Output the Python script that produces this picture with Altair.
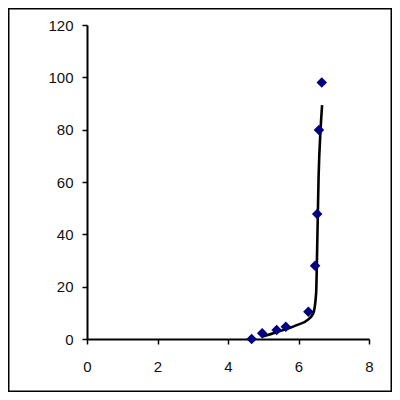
import altair as alt
import pandas as pd

# observed points
pt_x = [4.67, 4.97, 5.38, 5.64, 6.28, 6.47, 6.53, 6.58, 6.66]
pt_y = [0.0, 2.2, 3.4, 4.7, 10.4, 28.0, 47.8, 79.9, 98.0]

# fitted curve
fit_x = [4.97, 5.38, 5.95, 6.28, 6.42, 6.50, 6.53, 6.57, 6.63, 6.67]
fit_y = [0.9, 2.6, 5.3, 7.5, 9.8, 17.5, 35.0, 62.0, 81.0, 89.4]

x_ticks = [0, 2, 4, 6, 8]
y_ticks = [0, 20, 40, 60, 80, 100, 120]

pts = pd.DataFrame({"x": pt_x, "y": pt_y})
fit = pd.DataFrame({"x": fit_x, "y": fit_y})

W, H = 282, 314
PL, PT, PR, PB = 79, 17, 23, 53

xs = alt.Scale(domain=[0, 8], nice=False, zero=False)
ys = alt.Scale(domain=[0, 120], nice=False)

FONT = "Liberation Sans"

xax = alt.Axis(values=x_ticks, title=None, grid=False, domainColor="black",
               domainWidth=2, tickColor="black", tickWidth=1.5, tickSize=5,
               labelPadding=15, labelFontSize=15, labelFont=FONT,
               labelColor="#111111", labelFlush=False)
yax = alt.Axis(values=y_ticks, title=None, grid=False, domainColor="black",
               domainWidth=2, tickColor="black", tickWidth=1.5, tickSize=5,
               labelPadding=9, labelFontSize=15, labelFont=FONT,
               labelColor="#111111", labelFlush=False)

line = alt.Chart(fit).mark_line(color="black", strokeWidth=2.6, interpolate="monotone").encode(
    x=alt.X("x:Q", scale=xs, axis=xax),
    y=alt.Y("y:Q", scale=ys, axis=yax),
)

points = alt.Chart(pts).mark_point(shape="diamond", filled=True, color="#000080",
                                   size=110, opacity=1).encode(
    x=alt.X("x:Q", scale=xs),
    y=alt.Y("y:Q", scale=ys),
)

border = alt.Chart(pd.DataFrame({"a": [0]})).mark_rect(
    fill=None, stroke="black", strokeWidth=1.5, clip=False
).encode(
    x=alt.value(-PL + 0.75), x2=alt.value(W + PR - 0.75),
    y=alt.value(-PT + 0.75), y2=alt.value(H + PB - 0.75),
)

chart = alt.layer(line, points, border).properties(
    width=W, height=H,
    autosize=alt.AutoSizeParams(type="none"),
    padding={"left": PL, "top": PT, "right": PR, "bottom": PB},
    background="white",
).configure_view(stroke=None)

chart.save("out.html", embed_options={"renderer": "svg", "actions": False})
